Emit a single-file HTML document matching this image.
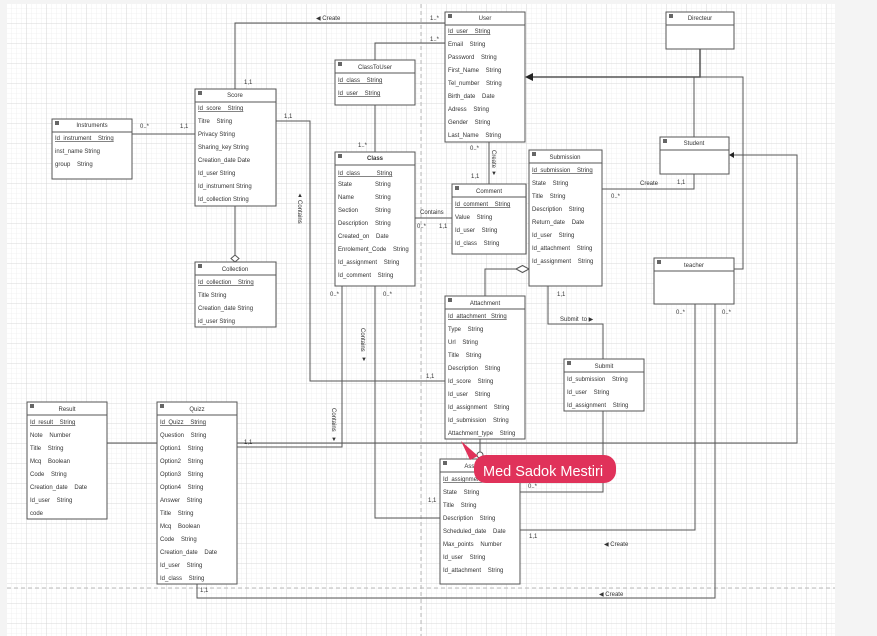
<!DOCTYPE html>
<html><head><meta charset="utf-8"><style>
body{margin:0;background:#f4f4f4;width:877px;height:636px;overflow:hidden}
svg{display:block}
text{font-family:"Liberation Sans",sans-serif;font-size:6px;fill:#333;white-space:pre}
.t{text-anchor:middle}
.u{text-decoration:underline}
.b{fill:#fff;stroke:#555;stroke-width:1}
.l{fill:none;stroke:#555;stroke-width:1}
</style></head><body>
<svg width="877" height="636" xmlns="http://www.w3.org/2000/svg" xml:space="preserve">
<defs>
<pattern id="g1" width="5" height="5" patternUnits="userSpaceOnUse"><path d="M5 0V5H0" fill="none" stroke="#e8e8e8" stroke-width="0.6"/></pattern>
<pattern id="g2" width="20" height="20" patternUnits="userSpaceOnUse" x="7" y="4"><rect width="20" height="20" fill="url(#g1)"/><path d="M20 0V20H0" fill="none" stroke="#d0d0d0" stroke-width="0.8"/></pattern>
</defs>
<rect x="7" y="4" width="828" height="632" fill="#fff"/>
<rect x="7" y="4" width="828" height="632" fill="url(#g2)"/>
<line x1="421" y1="4" x2="421" y2="636" stroke="#bbb" stroke-dasharray="4,3"/>
<line x1="7" y1="588" x2="835" y2="588" stroke="#bbb" stroke-dasharray="4,3"/>

<g class="l">
<path d="M235 89V23H445"/>
<path d="M375 60V43H445"/>
<path d="M375 105V152"/>
<path d="M132 134H195"/>
<path d="M235 206V255"/>
<path d="M276 121H310V381H445"/>
<path d="M415 218H452"/>
<path d="M107 443H797V155H732"/>
<path d="M237 447H342V286"/>
<path d="M375 286V518H440"/>
<path d="M489 142V184"/>
<path d="M602 189H694V174"/>
<path d="M700 49V77H528" stroke-width="1.5"/>
<path d="M694 137V77"/>
<path d="M734 269H743V77H700"/>
<path d="M485 296V269H516"/>
<path d="M548 286V324H603V359"/>
<path d="M603 411V492H520"/>
<path d="M695 304V530H520"/>
<path d="M715 304V598H197V584"/>
<path d="M480 439V452"/>
</g>
<path d="M235 255l-4 3.5 4 3.5 4-3.5z" fill="#fff" stroke="#555"/>
<path d="M516 269l6.5-3.5 6.5 3.5-6.5 3.5z" fill="#fff" stroke="#555"/>
<circle cx="480" cy="455" r="3" fill="#fff" stroke="#555"/>
<path d="M525 77l8-4v8z" fill="#222"/>
<path d="M729 155l5-3v6z" fill="#222"/>

<text x="316" y="20">◀ Create</text>
<text x="430" y="20">1..*</text>
<text x="430" y="41">1..*</text>
<text x="244" y="84">1,1</text>
<text x="140" y="128">0..*</text>
<text x="180" y="128">1,1</text>
<text x="284" y="118">1,1</text>
<text x="358" y="147">1..*</text>
<text transform="translate(298,200) rotate(90)">Contains</text>
<text x="297" y="197">▲</text>
<text x="420" y="214">Contains</text>
<text x="417" y="228">0..*</text>
<text x="439" y="228">1,1</text>
<text x="330" y="296">0..*</text>
<text x="383" y="296">0..*</text>
<text transform="translate(361,328) rotate(90)">Contains</text>
<text x="361" y="361">▼</text>
<text transform="translate(332,408) rotate(90)">Contains</text>
<text x="331" y="441">▼</text>
<text x="426" y="378">1,1</text>
<text x="244" y="444">1,1</text>
<text x="428" y="502">1,1</text>
<text x="470" y="150">0..*</text>
<text x="471" y="178">1,1</text>
<text transform="translate(492,150) rotate(90)">Create</text>
<text x="491" y="175">▼</text>
<text x="640" y="185">Create</text>
<text x="677" y="184">1,1</text>
<text x="611" y="198">0..*</text>
<text x="557" y="296">1,1</text>
<text x="560" y="321">Submit  to ▶</text>
<text x="528" y="488">0..*</text>
<text x="676" y="314">0..*</text>
<text x="722" y="314">0..*</text>
<text x="529" y="538">1,1</text>
<text x="604" y="546">◀ Create</text>
<text x="599" y="596">◀ Create</text>
<text x="200" y="592">1,1</text>

<g>
<rect class="b" x="52" y="119" width="80" height="60"/><line class="l" x1="52" y1="132" x2="132" y2="132"/><rect x="55" y="121" width="4" height="4" fill="#666"/>
<text class="t" x="92" y="127">Instruments</text>
<text class="u" x="55" y="140">Id_instrument    String</text>
<text x="55" y="153">inst_name String</text>
<text x="55" y="166">group    String</text>
</g>
<g>
<rect class="b" x="195" y="89" width="81" height="117"/><line class="l" x1="195" y1="102" x2="276" y2="102"/><rect x="198" y="91" width="4" height="4" fill="#666"/>
<text class="t" x="235" y="97">Score</text>
<text class="u" x="198" y="110">Id_score    String</text>
<text x="198" y="123">Titre    String</text>
<text x="198" y="136">Privacy String</text>
<text x="198" y="149">Sharing_key String</text>
<text x="198" y="162">Creation_date Date</text>
<text x="198" y="175">Id_user String</text>
<text x="198" y="188">Id_instrument String</text>
<text x="198" y="201">Id_collection String</text>
</g>
<g>
<rect class="b" x="195" y="262" width="81" height="65"/><line class="l" x1="195" y1="275" x2="276" y2="275"/><rect x="198" y="264" width="4" height="4" fill="#666"/>
<text class="t" x="235" y="271">Collection</text>
<text class="u" x="198" y="284">Id_collection    String</text>
<text x="198" y="297">Title String</text>
<text x="198" y="310">Creation_date String</text>
<text x="198" y="323">id_user String</text>
</g>
<g>
<rect class="b" x="335" y="60" width="80" height="45"/><line class="l" x1="335" y1="73" x2="415" y2="73"/><rect x="338" y="62" width="4" height="4" fill="#666"/>
<text class="t" x="375" y="69">ClassToUser</text>
<text class="u" x="338" y="82">Id_class    String</text>
<text class="u" x="338" y="95">Id_user    String</text>
</g>
<g>
<rect class="b" x="335" y="152" width="80" height="134"/><line class="l" x1="335" y1="165" x2="415" y2="165"/><rect x="338" y="154" width="4" height="4" fill="#666"/>
<text class="t" x="375" y="160" style="font-weight:bold">Class</text>
<text class="u" x="338" y="175">Id_class          String</text>
<text x="338" y="186">State</text><text x="375" y="186">String</text>
<text x="338" y="199">Name</text><text x="375" y="199">String</text>
<text x="338" y="212">Section</text><text x="375" y="212">String</text>
<text x="338" y="225">Description</text><text x="375" y="225">String</text>
<text x="338" y="238">Created_on    Date</text>
<text x="338" y="251">Enrolement_Code    String</text>
<text x="338" y="264">Id_assignment    String</text>
<text x="338" y="277">Id_comment    String</text>
</g>
<g>
<rect class="b" x="445" y="12" width="80" height="130"/><line class="l" x1="445" y1="25" x2="525" y2="25"/><rect x="448" y="14" width="4" height="4" fill="#666"/>
<text class="t" x="485" y="20">User</text>
<text class="u" x="448" y="33">Id_user    String</text>
<text x="448" y="46">Email    String</text>
<text x="448" y="59">Password    String</text>
<text x="448" y="72">First_Name    String</text>
<text x="448" y="85">Tel_number    String</text>
<text x="448" y="98">Birth_date    Date</text>
<text x="448" y="111">Adress    String</text>
<text x="448" y="124">Gender    String</text>
<text x="448" y="137">Last_Name    String</text>
</g>
<g>
<rect class="b" x="666" y="12" width="68" height="37"/><line class="l" x1="666" y1="25" x2="734" y2="25"/><rect x="669" y="14" width="4" height="4" fill="#666"/>
<text class="t" x="700" y="20">Directeur</text>
</g>
<g>
<rect class="b" x="660" y="137" width="69" height="37"/><line class="l" x1="660" y1="150" x2="729" y2="150"/><rect x="663" y="139" width="4" height="4" fill="#666"/>
<text class="t" x="694" y="145">Student</text>
</g>
<g>
<rect class="b" x="529" y="150" width="73" height="136"/><line class="l" x1="529" y1="163" x2="602" y2="163"/><rect x="532" y="152" width="4" height="4" fill="#666"/>
<text class="t" x="565" y="159">Submission</text>
<text class="u" x="532" y="172">Id_submission    String</text>
<text x="532" y="185">State    String</text>
<text x="532" y="198">Title    String</text>
<text x="532" y="211">Description    String</text>
<text x="532" y="224">Return_date    Date</text>
<text x="532" y="237">Id_user    String</text>
<text x="532" y="250">Id_attachment    String</text>
<text x="532" y="263">Id_assignment    String</text>
</g>
<g>
<rect class="b" x="452" y="184" width="74" height="70"/><line class="l" x1="452" y1="197" x2="526" y2="197"/><rect x="455" y="186" width="4" height="4" fill="#666"/>
<text class="t" x="489" y="193">Comment</text>
<text class="u" x="455" y="206">Id_comment    String</text>
<text x="455" y="219">Value    String</text>
<text x="455" y="232">Id_user    String</text>
<text x="455" y="245">Id_class    String</text>
</g>
<g>
<rect class="b" x="654" y="258" width="80" height="46"/><line class="l" x1="654" y1="271" x2="734" y2="271"/><rect x="657" y="260" width="4" height="4" fill="#666"/>
<text class="t" x="694" y="267">teacher</text>
</g>
<g>
<rect class="b" x="445" y="296" width="80" height="143"/><line class="l" x1="445" y1="309" x2="525" y2="309"/><rect x="448" y="298" width="4" height="4" fill="#666"/>
<text class="t" x="485" y="305">Attachment</text>
<text class="u" x="448" y="318">Id_attachment   String</text>
<text x="448" y="331">Type    String</text>
<text x="448" y="344">Url    String</text>
<text x="448" y="357">Title    String</text>
<text x="448" y="370">Description    String</text>
<text x="448" y="383">Id_score    String</text>
<text x="448" y="396">Id_user    String</text>
<text x="448" y="409">Id_assignment    String</text>
<text x="448" y="422">Id_submission    String</text>
<text x="448" y="435">Attachment_type    String</text>
</g>
<g>
<rect class="b" x="564" y="359" width="80" height="52"/><line class="l" x1="564" y1="372" x2="644" y2="372"/><rect x="567" y="361" width="4" height="4" fill="#666"/>
<text class="t" x="604" y="368">Submit</text>
<text x="567" y="381">Id_submission    String</text>
<text x="567" y="394">Id_user    String</text>
<text x="567" y="407">Id_assignment    String</text>
</g>
<g>
<rect class="b" x="440" y="459" width="80" height="125"/><line class="l" x1="440" y1="472" x2="520" y2="472"/><rect x="443" y="461" width="4" height="4" fill="#666"/>
<text class="t" x="480" y="468">Assignment</text>
<text class="u" x="443" y="481">Id_assignment    String</text>
<text x="443" y="494">State    String</text>
<text x="443" y="507">Title    String</text>
<text x="443" y="520">Description    String</text>
<text x="443" y="533">Scheduled_date    Date</text>
<text x="443" y="546">Max_points    Number</text>
<text x="443" y="559">Id_user    String</text>
<text x="443" y="572">Id_attachment    String</text>
</g>
<g>
<rect class="b" x="27" y="402" width="80" height="117"/><line class="l" x1="27" y1="415" x2="107" y2="415"/><rect x="30" y="404" width="4" height="4" fill="#666"/>
<text class="t" x="67" y="411">Result</text>
<text class="u" x="30" y="424">Id_result    String</text>
<text x="30" y="437">Note    Number</text>
<text x="30" y="450">Title    String</text>
<text x="30" y="463">Mcq    Boolean</text>
<text x="30" y="476">Code    String</text>
<text x="30" y="489">Creation_date    Date</text>
<text x="30" y="502">Id_user    String</text>
<text x="30" y="515">code</text>
</g>
<g>
<rect class="b" x="157" y="402" width="80" height="182"/><line class="l" x1="157" y1="415" x2="237" y2="415"/><rect x="160" y="404" width="4" height="4" fill="#666"/>
<text class="t" x="197" y="411">Quizz</text>
<text class="u" x="160" y="424">Id_Quizz    String</text>
<text x="160" y="437">Question    String</text>
<text x="160" y="450">Option1    String</text>
<text x="160" y="463">Option2    String</text>
<text x="160" y="476">Option3    String</text>
<text x="160" y="489">Option4    String</text>
<text x="160" y="502">Answer    String</text>
<text x="160" y="515">Title    String</text>
<text x="160" y="528">Mcq    Boolean</text>
<text x="160" y="541">Code    String</text>
<text x="160" y="554">Creation_date    Date</text>
<text x="160" y="567">Id_user    String</text>
<text x="160" y="580">Id_class    String</text>
</g>

<path d="M461 441L478 456L470 460Z" fill="#e0325a"/>
<rect x="474" y="455" width="142" height="28" rx="12" fill="#e0325a"/>
<text x="483" y="476" style="font-size:14.5px;fill:#fff">Med Sadok Mestiri</text>
</svg>
</body></html>
